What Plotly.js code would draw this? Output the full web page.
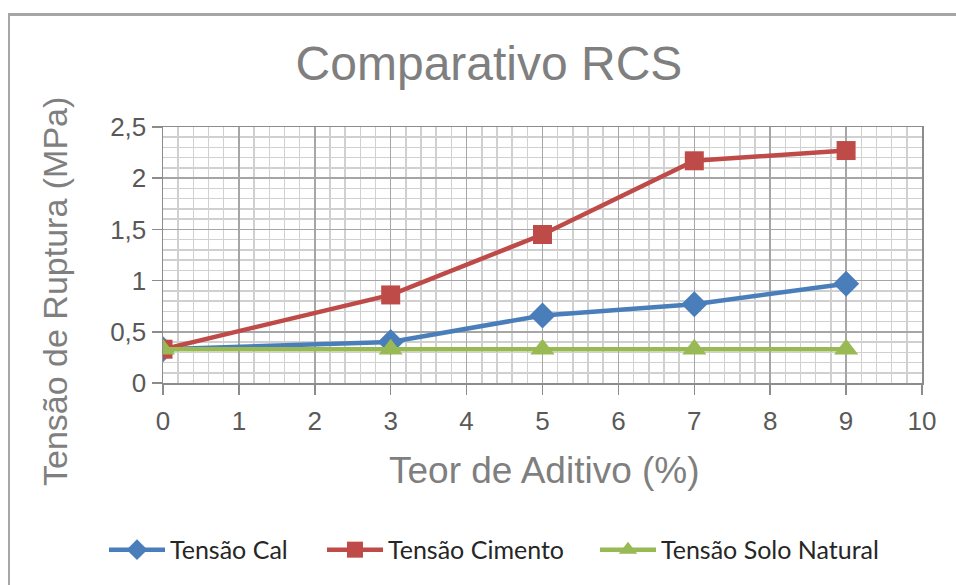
<!DOCTYPE html>
<html>
<head>
<meta charset="utf-8">
<script src="https://cdn.plot.ly/plotly-3.0.1.min.js"></script>
<style>
  html, body { margin: 0; padding: 0; background: #fff; }
  #wrap { position: relative; width: 956px; height: 585px; }
  #chart { width: 956px; height: 585px; }
  #frame { position: absolute; left: 8px; top: 13px; right: 0; bottom: 0;
           border-top: 3px solid #a6a6a6; border-left: 2px solid #a6a6a6; pointer-events: none; }
</style>
</head>
<body>
<div id="wrap">
  <div id="chart"></div>
  <div id="frame"></div>
</div>
<script>
const teor = [0, 3, 5, 7, 9];
const tensaoCal = [0.33, 0.40, 0.66, 0.77, 0.97];
const tensaoCimento = [0.33, 0.86, 1.45, 2.17, 2.27];
const tensaoSolo = [0.33, 0.33, 0.33, 0.33, 0.33];
const seriesNames = ['Tensão Cal', 'Tensão Cimento', 'Tensão Solo Natural'];
const chartTitle = 'Comparativo RCS';
const xTitle = 'Teor de Aditivo (%)';
const yTitle = 'Tensão de Ruptura (MPa)';

const legendFont = {family: 'Lato, "Liberation Sans", sans-serif', size: 25, color: '#262626'};

const traces = [
  {x: teor, y: tensaoCal, name: seriesNames[0], type: 'scatter', mode: 'lines+markers',
   line: {color: '#4a7ebb', width: 4.5}, marker: {symbol: 'diamond', size: 20, color: '#4a7ebb'},
   legend: 'legend'},
  {x: teor, y: tensaoCimento, name: seriesNames[1], type: 'scatter', mode: 'lines+markers',
   line: {color: '#be4b48', width: 4.5}, marker: {symbol: 'square', size: 19, color: '#be4b48'},
   legend: 'legend2'},
  {x: teor, y: tensaoSolo, name: seriesNames[2], type: 'scatter', mode: 'lines+markers',
   line: {color: '#98b954', width: 4.5}, marker: {symbol: 'triangle-up', size: 21, color: '#98b954'},
   legend: 'legend3'}
];

const gridMajor = '#a6a6a6';
const gridMinor = '#d0d0d0';
const tickFont = {family: '"Liberation Sans", Arial, sans-serif', size: 26, color: '#595959'};

function legendAt(px) {
  return {x: (px - 163) / 759, xanchor: 'left', y: -0.652, yanchor: 'middle',
          orientation: 'h', font: legendFont, bgcolor: 'rgba(0,0,0,0)', itemwidth: 56};
}

const layout = {
  width: 956, height: 585,
  margin: {l: 163, r: 34, t: 127, b: 202},
  paper_bgcolor: '#ffffff', plot_bgcolor: '#ffffff',
  separators: ',.',
  showlegend: true,
  title: {text: chartTitle, x: 489 / 956, xref: 'container', xanchor: 'center',
          y: 1 - 63 / 585, yref: 'container', yanchor: 'middle',
          font: {family: '"Liberation Sans", Arial, sans-serif', size: 48, color: '#7f7f7f'}},
  xaxis: {range: [0, 10], dtick: 1, tick0: 0, showgrid: true, gridcolor: gridMajor, gridwidth: 1.5,
          showline: true, linecolor: '#8c8c8c', linewidth: 1.5, mirror: true,
          ticks: 'outside', ticklen: 10, tickwidth: 1.5, tickcolor: '#8c8c8c',
          ticklabelstandoff: 4,
          tickfont: tickFont, zeroline: false, fixedrange: true,
          minor: {dtick: 0.2, showgrid: true, gridcolor: gridMinor, gridwidth: 1.5}},
  yaxis: {range: [0, 2.5], dtick: 0.5, tick0: 0, showgrid: true, gridcolor: gridMajor, gridwidth: 1.5,
          showline: true, linecolor: '#8c8c8c', linewidth: 1.5, mirror: true,
          ticks: 'outside', ticklen: 10, tickwidth: 1.5, tickcolor: '#8c8c8c',
          tickfont: tickFont, zeroline: false, fixedrange: true,
          minor: {dtick: 0.1, showgrid: true, gridcolor: gridMinor, gridwidth: 1.5}},
  legend: legendAt(104),
  legend2: legendAt(322),
  legend3: legendAt(595),
  annotations: [
    {text: xTitle, xref: 'paper', yref: 'paper', x: (544 - 163) / 759, y: (383 - 470) / 256,
     xanchor: 'center', yanchor: 'middle', showarrow: false,
     font: {family: '"Liberation Sans", Arial, sans-serif', size: 37, color: '#7f7f7f'}},
    {text: yTitle, xref: 'paper', yref: 'paper', x: (55 - 163) / 759, y: (383 - 292) / 256,
     xanchor: 'center', yanchor: 'middle', textangle: -90, showarrow: false,
     font: {family: '"Liberation Sans", Arial, sans-serif', size: 34, color: '#7f7f7f'}}
  ]
};

Plotly.newPlot('chart', traces, layout, {displayModeBar: false, staticPlot: true});
</script>
</body>
</html>
